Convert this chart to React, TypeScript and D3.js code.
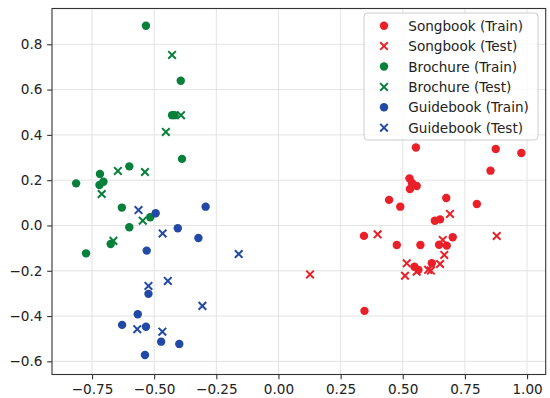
import { useRef, useEffect } from 'react';
import * as d3 from 'd3';

// Series values as [x, y] pairs
const songbookTrain: [number, number][] = [
  [0.553, 0.344], [0.874, 0.338], [0.977, 0.32], [0.853, 0.242], [0.527, 0.208],
  [0.556, 0.174], [0.529, 0.161], [0.537, 0.188], [0.445, 0.113], [0.49, 0.083],
  [0.675, 0.121], [0.798, 0.095], [0.629, 0.021], [0.65, 0.027], [0.344, -0.046],
  [0.476, -0.086], [0.571, -0.086], [0.646, -0.085], [0.677, -0.089], [0.701, -0.052],
  [0.617, -0.167], [0.547, -0.182], [0.563, -0.196], [0.346, -0.377],
];
const songbookTest: [number, number][] = [
  [0.127, -0.216], [0.69, 0.051], [0.399, -0.039], [0.878, -0.046], [0.661, -0.064],
  [0.667, -0.13], [0.65, -0.17], [0.613, -0.199], [0.516, -0.167], [0.509, -0.222],
  [0.556, -0.204], [0.602, -0.196],
];
const brochureTrain: [number, number][] = [
  [-0.533, 0.882], [-0.393, 0.639], [-0.428, 0.487], [-0.418, 0.487], [-0.388, 0.294],
  [-0.6, 0.261], [-0.718, 0.227], [-0.814, 0.186], [-0.72, 0.179], [-0.704, 0.193],
  [-0.63, 0.079], [-0.516, 0.036], [-0.6, -0.008], [-0.675, -0.082], [-0.774, -0.123],
];
const brochureTest: [number, number][] = [
  [-0.428, 0.753], [-0.392, 0.487], [-0.453, 0.413], [-0.646, 0.241], [-0.537, 0.236],
  [-0.711, 0.139], [-0.546, 0.021], [-0.664, -0.068],
];
const guidebookTrain: [number, number][] = [
  [-0.494, 0.054], [-0.293, 0.083], [-0.405, -0.012], [-0.322, -0.055], [-0.53, -0.111],
  [-0.523, -0.302], [-0.566, -0.392], [-0.629, -0.439], [-0.533, -0.447], [-0.472, -0.513],
  [-0.399, -0.523], [-0.537, -0.572],
];
const guidebookTest: [number, number][] = [
  [-0.563, 0.068], [-0.466, -0.035], [-0.16, -0.126], [-0.523, -0.267], [-0.445, -0.245],
  [-0.306, -0.355], [-0.568, -0.458], [-0.467, -0.469],
];

const xTicks = [-0.75, -0.5, -0.25, 0, 0.25, 0.5, 0.75, 1.0];
const yTicks = [-0.6, -0.4, -0.2, 0, 0.2, 0.4, 0.6, 0.8];

const RED = '#ea1f27';
const GREEN = '#07803b';
const BLUE = '#2149a6';

const series = [
  { label: 'Songbook (Train)', data: songbookTrain, color: RED, marker: 'o' },
  { label: 'Songbook (Test)', data: songbookTest, color: RED, marker: 'x' },
  { label: 'Brochure (Train)', data: brochureTrain, color: GREEN, marker: 'o' },
  { label: 'Brochure (Test)', data: brochureTest, color: GREEN, marker: 'x' },
  { label: 'Guidebook (Train)', data: guidebookTrain, color: BLUE, marker: 'o' },
  { label: 'Guidebook (Test)', data: guidebookTest, color: BLUE, marker: 'x' },
];

const W = 550;
const H = 398;
const FONT = 'DejaVu Sans, sans-serif';
const FS = 13.6;

export default function App() {
  const svgRef = useRef<SVGSVGElement>(null);

  useEffect(() => {
    const svg = d3.select(svgRef.current);
    svg.selectAll('*').remove();

    const left = 52, right = 545.7, top = 8.5, bottom = 374.5;
    const x = d3.scaleLinear().domain([-0.911, 1.075]).range([left, right]);
    const y = d3.scaleLinear().domain([-0.658, 0.958]).range([bottom, top]);

    svg.append('rect').attr('width', W).attr('height', H).attr('fill', '#fff');

    // grid
    const grid = svg.append('g').attr('stroke', '#e3e3e3').attr('stroke-width', 1);
    xTicks.forEach(function (t) {
      grid.append('line').attr('x1', x(t)).attr('x2', x(t)).attr('y1', top).attr('y2', bottom);
    });
    yTicks.forEach(function (t) {
      grid.append('line').attr('x1', left).attr('x2', right).attr('y1', y(t)).attr('y2', y(t));
    });

    const r = 4.2;
    const drawMarker = function (g: any, cx: number, cy: number, color: string, marker: string) {
      if (marker === 'o') {
        g.append('circle').attr('cx', cx).attr('cy', cy).attr('r', r).attr('fill', color);
      } else {
        const a = 3.8;
        g.append('path')
          .attr('d', 'M' + (cx - a) + ',' + (cy - a) + 'L' + (cx + a) + ',' + (cy + a) +
            'M' + (cx - a) + ',' + (cy + a) + 'L' + (cx + a) + ',' + (cy - a))
          .attr('stroke', color)
          .attr('stroke-width', 2)
          .attr('fill', 'none');
      }
    };

    const pts = svg.append('g');
    series.forEach(function (s) {
      s.data.forEach(function (d) {
        drawMarker(pts, x(d[0]), y(d[1]), s.color, s.marker);
      });
    });

    // axes
    const xAxis = d3.axisBottom(x).tickValues(xTicks).tickSize(4.8).tickPadding(4.8)
      .tickFormat(function (d: any) { return d3.format('.2f')(d).replace('-', '\u2212'); });
    const yAxis = d3.axisLeft(y).tickValues(yTicks).tickSize(4.8).tickPadding(4.8)
      .tickFormat(function (d: any) { return d3.format('.1f')(d).replace('-', '\u2212'); });

    const gx = svg.append('g').attr('transform', 'translate(0,' + bottom + ')').call(xAxis);
    const gy = svg.append('g').attr('transform', 'translate(' + left + ',0)').call(yAxis);
    [gx, gy].forEach(function (g) {
      g.select('.domain').remove();
      g.selectAll('line').attr('stroke', '#333').attr('stroke-width', 1.1);
      g.selectAll('text').attr('fill', '#222').style('font-family', FONT).style('font-size', FS + 'px');
    });

    svg.append('rect')
      .attr('x', left).attr('y', top)
      .attr('width', right - left).attr('height', bottom - top)
      .attr('fill', 'none').attr('stroke', '#333').attr('stroke-width', 1.1);

    // legend
    const lg = svg.append('g');
    lg.append('rect')
      .attr('x', 364).attr('y', 13).attr('width', 174).attr('height', 127).attr('rx', 3.5)
      .attr('fill', '#fff').attr('fill-opacity', 0.8)
      .attr('stroke', '#cccccc').attr('stroke-width', 1);
    series.forEach(function (s, i) {
      const cy = 25.7 + i * 20.4;
      drawMarker(lg, 384, cy, s.color, s.marker);
      lg.append('text')
        .attr('x', 408.3).attr('y', cy + 5)
        .attr('fill', '#222')
        .style('font-family', FONT).style('font-size', FS + 'px')
        .text(s.label);
    });
  }, []);

  return (
    <div style={{ position: 'absolute', left: 0, top: 0 }}>
      <svg ref={svgRef} width={W} height={H} />
    </div>
  );
}
